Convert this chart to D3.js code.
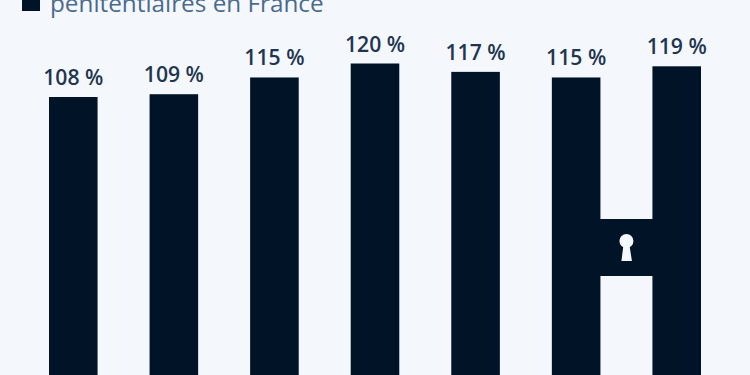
<!DOCTYPE html>
<html>
<head>
<meta charset="utf-8">
<script src="https://cdn.jsdelivr.net/npm/d3@7"></script>
<style>
html, body { margin: 0; padding: 0; background: #f4f8fc; overflow: hidden; }
svg { display: block; }
text { font-family: "Open Sans", sans-serif; }
</style>
</head>
<body>
<svg width="750" height="375"></svg>
<script>
// values, the year labels are cropped out of it
var bars = ['a', 'b', 'c', 'd', 'e', 'f', 'g']
var rates = [108, 109, 115, 120, 117, 115, 119]
var legendLabel = 'pénitentiaires en France'

var navy = '#001327'
var paper = '#f4f8fc'

var svg = d3.select('svg')

var x = d3.scaleBand().domain(bars).range([49, 701]).paddingInner(0.517).paddingOuter(0)
var y = d3.scaleLinear().domain([0, 120]).range([398.6, 63.5])

// legend, cut by the top of the picture
svg.append('rect')
	.attr('x', 22).attr('y', -7)
	.attr('width', 18).attr('height', 18)
	.attr('fill', navy)

svg.append('text')
	.attr('x', 50).attr('y', 11.5)
	.attr('font-size', 24.3)
	.attr('fill', '#4b6a8f')
	.text(legendLabel)

// the bars
svg.selectAll('.bar').data(rates).enter().append('rect')
	.attr('class', 'bar')
	.attr('x', function(d, i) { return x(bars[i]) })
	.attr('y', function(d) { return y(d) })
	.attr('width', x.bandwidth())
	.attr('height', function(d) { return y(0) - y(d) })
	.attr('fill', navy)

svg.selectAll('.value').data(rates).enter().append('text')
	.attr('class', 'value')
	.attr('x', function(d, i) { return x(bars[i]) + x.bandwidth() / 2 })
	.attr('y', function(d) { return y(d) - 12 })
	.attr('text-anchor', 'middle')
	.attr('font-size', 21.2)
	.attr('font-weight', 600)
	.attr('fill', '#1f3550')
	.text(function(d) { return d + ' %' })

// cell door lock between the last two bars
var lockLeft = x('f') + x.bandwidth()
var lockRight = x('g')
var lockMid = (lockLeft + lockRight) / 2

svg.append('rect')
	.attr('x', lockLeft - 1).attr('y', 219)
	.attr('width', lockRight - lockLeft + 2).attr('height', 57)
	.attr('fill', navy)

svg.append('circle')
	.attr('cx', lockMid).attr('cy', 241)
	.attr('r', 7)
	.attr('fill', paper)

svg.append('path')
	.attr('d', d3.line()([
		[lockMid - 3, 245], [lockMid + 3, 245],
		[lockMid + 5.5, 261], [lockMid - 5, 261]
	]) + 'Z')
	.attr('fill', paper)
</script>
</body>
</html>
